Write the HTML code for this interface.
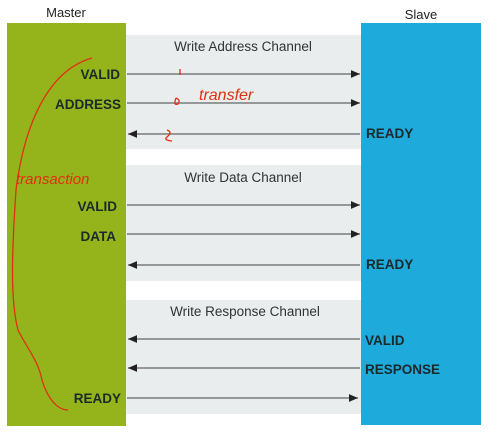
<!DOCTYPE html>
<html><head><meta charset="utf-8"><style>
body{margin:0;width:489px;height:433px;background:#fff;overflow:hidden;font-family:"Liberation Sans",sans-serif}
</style></head><body>
<svg width="489" height="433" xmlns="http://www.w3.org/2000/svg" font-family="Liberation Sans, sans-serif">
<defs><marker id="a" markerWidth="8" markerHeight="6" refX="7" refY="3" orient="auto"><path d="M0,0 L7,3 L0,6z" fill="#222"/></marker></defs>
<rect x="126" y="35" width="235" height="114" fill="#e9eded"/>
<rect x="126" y="165" width="235" height="116" fill="#e9eded"/>
<rect x="126" y="300" width="235" height="114" fill="#e9eded"/>
<rect x="7" y="23" width="119" height="403" fill="#95b41c"/>
<rect x="361" y="23" width="120" height="402" fill="#1eaadb"/>
<text x="66" y="17" font-size="13" fill="#222" text-anchor="middle">Master</text>
<text x="421" y="19" font-size="13" fill="#222" text-anchor="middle">Slave</text>
<g font-size="13.5" fill="#333" text-anchor="middle">
<text x="243" y="51">Write Address Channel</text>
<text x="243" y="182">Write Data Channel</text>
<text x="245" y="316">Write Response Channel</text>
</g>
<g stroke="#666" stroke-width="1.3">
<line x1="127" y1="74" x2="360" y2="74" marker-end="url(#a)"/>
<line x1="127" y1="103" x2="360" y2="103" marker-end="url(#a)"/>
<line x1="360" y1="134" x2="128" y2="134" marker-end="url(#a)"/>
<line x1="127" y1="205" x2="360" y2="205" marker-end="url(#a)"/>
<line x1="127" y1="234" x2="360" y2="234" marker-end="url(#a)"/>
<line x1="360" y1="265" x2="128" y2="265" marker-end="url(#a)"/>
<line x1="360" y1="339" x2="128" y2="339" marker-end="url(#a)"/>
<line x1="360" y1="368" x2="128" y2="368" marker-end="url(#a)"/>
<line x1="127" y1="398" x2="358" y2="398" marker-end="url(#a)"/>
</g>
<g font-size="13.5" font-weight="bold" fill="#1a2a2a" text-anchor="end">
<text x="120" y="79">VALID</text>
<text x="121" y="109">ADDRESS</text>
<text x="117" y="211">VALID</text>
<text x="116" y="241">DATA</text>
<text x="121" y="403">READY</text>
</g>
<g font-size="13.5" font-weight="bold" fill="#1a2a2a">
<text x="366" y="138">READY</text>
<text x="366" y="269">READY</text>
<text x="365" y="345">VALID</text>
<text x="365" y="374">RESPONSE</text>
</g>
<g fill="none" stroke="#e03010" stroke-width="1.3">
<path d="M92,58 C50,70 25,120 16,190 C12,250 10,300 18,330 C28,350 38,360 42,380 C48,400 58,410 68,410"/>
<path d="M180,69 l0,6 M176,98 q-3,8 2,6 q3,-4 -2,-6 M167,130 q6,2 0,7 q-4,3 5,4"/>
</g>
<g font-size="16" fill="#e03010" font-style="italic">
<text x="199" y="100">transfer</text>
<text x="16" y="184" font-size="15">transaction</text>
</g>
</svg>
</body></html>
